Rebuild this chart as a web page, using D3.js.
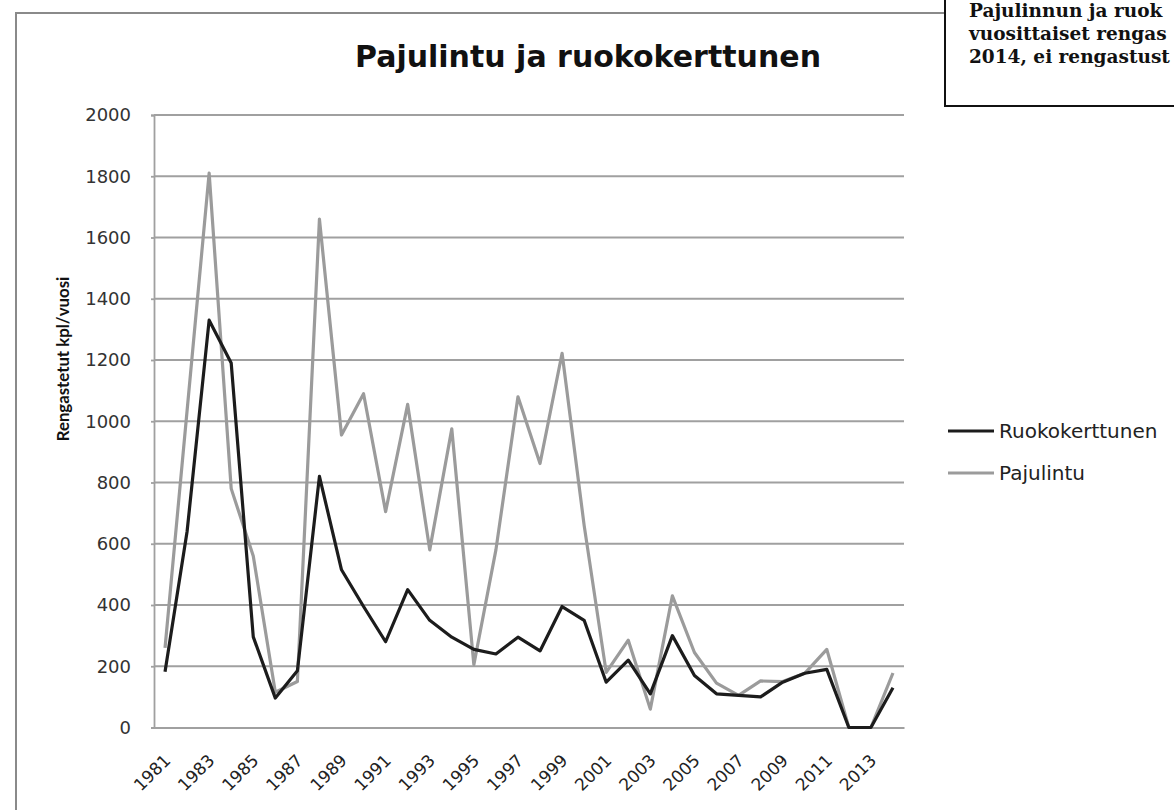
<!DOCTYPE html>
<html>
<head>
<meta charset="utf-8">
<script src="https://cdn.jsdelivr.net/npm/d3@7"></script>
<style>
  body { margin: 0; background: #fff; }
  svg { display: block; }
</style>
</head>
<body>
<div id="chart"></div>
<script>
// Years on the category axis
const years = d3.range(1981, 2015);
// Ringed birds per year
const ruokokerttunen = [182, 640, 1330, 1190, 296, 96, 185, 820, 515, 395, 280, 450, 350, 295, 255, 240,
  295, 250, 395, 350, 148, 220, 110, 300, 170, 110, 105, 100, 148, 177, 190, 0, 0, 130];
const pajulintu = [260, 1035, 1810, 780, 560, 115, 150, 1660, 955, 1090, 705, 1055, 580, 975, 205, 580,
  1080, 862, 1222, 660, 180, 285, 60, 430, 245, 145, 105, 152, 150, 177, 255, 0, 0, 178];
const yTicks = [0, 200, 400, 600, 800, 1000, 1200, 1400, 1600, 1800, 2000];
const xLabelYears = years.filter(y => (y - 1981) % 2 === 0 && y < 2014);
// the note box is cropped at the page edge in the picture, only its visible part is kept
const noteLines = ['Pajulinnun ja ruok', 'vuosittaiset rengas', '2014, ei rengastust'];

const series = [
  { name: 'Ruokokerttunen', values: ruokokerttunen, color: '#1c1c1c' },
  { name: 'Pajulintu', values: pajulintu, color: '#9b9b9b' }
];

const sans = 'DejaVu Sans, sans-serif';
const W = 1174, H = 810;
const svg = d3.select('#chart').append('svg')
  .attr('width', W)
  .attr('height', H);

// outer chart frame (only top and left visible)
svg.append('path')
  .attr('d', 'M16,820 L16,13 L946,13')
  .attr('fill', 'none')
  .attr('stroke', '#8a8a8a')
  .attr('stroke-width', 2);

// note box in the top right corner
const note = svg.append('g');
note.append('path')
  .attr('d', 'M945,-2 L945,106 L1180,106')
  .attr('fill', 'none')
  .attr('stroke', '#111')
  .attr('stroke-width', 2);
note.selectAll('text')
  .data(noteLines)
  .enter()
  .append('text')
  .attr('x', 969)
  .attr('y', (d, i) => 17 + i * 23)
  .attr('font-family', 'DejaVu Serif, serif')
  .attr('font-weight', 'bold')
  .attr('font-size', 18.5)
  .attr('fill', '#111')
  .text(d => d);

// title
svg.append('text')
  .attr('x', 588)
  .attr('y', 67)
  .attr('text-anchor', 'middle')
  .attr('font-family', sans)
  .attr('font-weight', 'bold')
  .attr('font-size', 30)
  .attr('fill', '#111')
  .text('Pajulintu ja ruokokerttunen');

// scales
const x = d3.scalePoint()
  .domain(years)
  .range([154, 904])
  .padding(0.5);

const y = d3.scaleLinear()
  .domain([0, 2000])
  .range([727.5, 115]);

// gridlines
svg.append('g')
  .selectAll('line')
  .data(yTicks.filter(d => d > 0))
  .enter()
  .append('line')
  .attr('x1', 154)
  .attr('x2', 904)
  .attr('y1', d => y(d))
  .attr('y2', d => y(d))
  .attr('stroke', '#a0a0a0')
  .attr('stroke-width', 1.8);

// y axis
const yAxis = svg.append('g')
  .attr('transform', 'translate(154,0)')
  .call(d3.axisLeft(y).tickValues(yTicks).tickFormat(d3.format('d')).tickSize(3).tickPadding(20));
yAxis.select('.domain').attr('stroke', '#a0a0a0').attr('stroke-width', 1.8);
yAxis.selectAll('.tick line').attr('stroke', '#a0a0a0').attr('stroke-width', 1.8);
yAxis.selectAll('.tick text')
  .attr('font-family', sans)
  .attr('font-size', 18)
  .attr('fill', '#333');

// x axis
const xAxis = svg.append('g')
  .attr('transform', 'translate(0,727.5)')
  .call(d3.axisBottom(x).tickValues(xLabelYears).tickSize(0).tickPadding(0));
xAxis.select('.domain').attr('stroke', '#a0a0a0').attr('stroke-width', 1.8);
xAxis.selectAll('.tick text')
  .attr('font-family', sans)
  .attr('font-size', 17)
  .attr('fill', '#222')
  .attr('text-anchor', 'end')
  .attr('y', 0)
  .attr('dy', 0)
  .attr('transform', 'translate(6,34) rotate(-45)');

// y axis title
svg.append('text')
  .attr('transform', 'translate(69,359) rotate(-90)')
  .attr('text-anchor', 'middle')
  .attr('font-family', 'Lato, sans-serif')
  .attr('font-weight', 'bold')
  .attr('font-size', 16.8)
  .attr('fill', '#111')
  .text('Rengastetut kpl/vuosi');

// lines (grey one drawn last so it sits on top, as in the picture)
const line = d3.line()
  .x((d, i) => x(years[i]))
  .y(d => y(d));

svg.append('g')
  .selectAll('path')
  .data(series.slice().reverse())
  .enter()
  .append('path')
  .attr('d', d => line(d.values))
  .attr('fill', 'none')
  .attr('stroke', d => d.color)
  .attr('stroke-width', 3.2)
  .attr('stroke-linejoin', 'round');

// legend
const legend = svg.append('g')
  .selectAll('g')
  .data(series)
  .enter()
  .append('g')
  .attr('transform', (d, i) => `translate(948,${431 + i * 42})`);
legend.append('line')
  .attr('x1', 0)
  .attr('x2', 46)
  .attr('stroke', d => d.color)
  .attr('stroke-width', 3.2);
legend.append('text')
  .attr('x', 51)
  .attr('dy', '0.36em')
  .attr('font-family', sans)
  .attr('font-size', 20)
  .attr('fill', '#222')
  .text(d => d.name);
</script>
</body>
</html>
